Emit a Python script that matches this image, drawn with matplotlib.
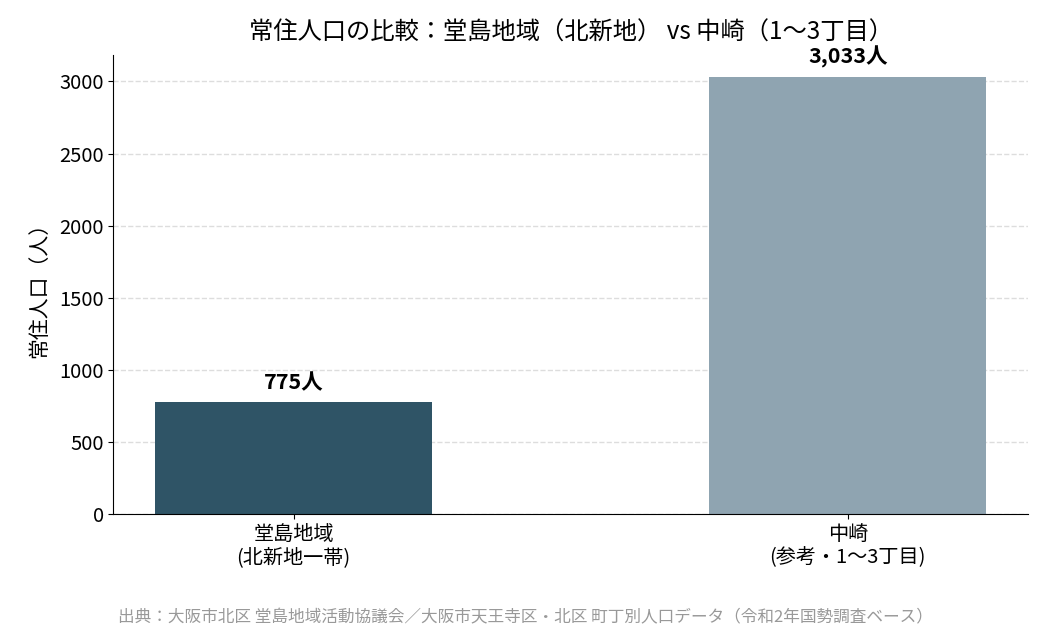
import matplotlib
matplotlib.use('Agg')
import matplotlib.pyplot as plt

plt.rcParams['font.family'] = ['Noto Sans CJK JP', 'DejaVu Sans']

# Data
categories = ['堂島地域\n(北新地一帯)', '中崎\n(参考・1〜3丁目)']
population = [775, 3033]
labels = ['775人', '3,033人']
colors = ['#2F5466', '#8FA4B1']

fig, ax = plt.subplots(figsize=(10.5, 6.3), dpi=100)

x = range(len(categories))
ax.bar(x, population, width=0.5, color=colors)

for i, v in enumerate(population):
    ax.text(i, v + max(population) * 0.02, labels[i], ha='center', va='bottom',
            fontsize=15.5, fontweight='bold')

ax.set_xticks(list(x))
ax.set_xticklabels(categories, fontsize=14.5, linespacing=1.15)
ax.tick_params(axis='y', labelsize=14.5)
ax.set_ylim(0, max(population) * 1.05)
ax.set_ylabel('常住人口（人）', fontsize=15, labelpad=6)
ax.set_title('常住人口の比較：堂島地域（北新地） vs 中崎（1〜3丁目）', fontsize=17.5, pad=11)

ax.yaxis.grid(True, linestyle='--', color='#DDDDDD', linewidth=1)
ax.set_axisbelow(True)
ax.spines['top'].set_visible(False)
ax.spines['right'].set_visible(False)

fig.text(0.5, 0.012, '出典：大阪市北区 堂島地域活動協議会／大阪市天王寺区・北区 町丁別人口データ（令和2年国勢調査ベース）',
         ha='center', fontsize=12, color='#999999')

plt.subplots_adjust(left=0.108, right=0.979, top=0.913, bottom=0.184)
plt.savefig('out.png')
